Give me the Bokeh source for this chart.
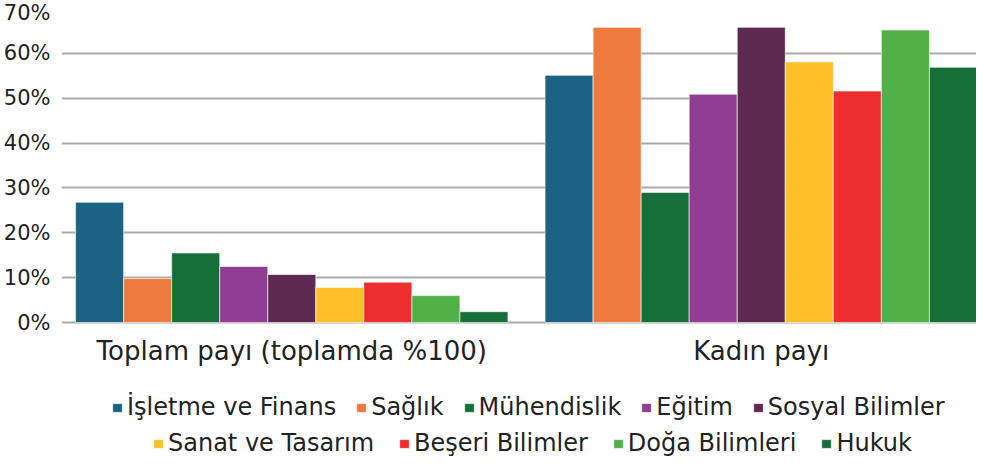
from bokeh.plotting import figure
from bokeh.models import ColumnDataSource, FactorRange, Legend, LegendItem, PrintfTickFormatter, FixedTicker
from bokeh.transform import dodge
from bokeh.core.properties import value
from bokeh.embed import file_html
from bokeh.resources import INLINE

categories = ["Toplam payı (toplamda %100)", "Kadın payı"]
series_names = ["İşletme ve Finans", "Sağlık", "Mühendislik", "Eğitim", "Sosyal Bilimler",
                "Sanat ve Tasarım", "Beşeri Bilimler", "Doğa Bilimleri", "Hukuk"]
isletme = [26.8, 55.1]
saglik = [9.8, 65.8]
muhendislik = [15.5, 29.0]
egitim = [12.5, 50.9]
sosyal = [10.7, 65.8]
sanat = [7.8, 58.1]
beseri = [9.0, 51.6]
doga = [6.0, 65.2]
hukuk = [2.4, 56.9]
colors = ["#1C6282", "#EE7A3E", "#156F39", "#913D93", "#5E2A52",
          "#FEBF29", "#EC2E2E", "#51B048", "#156F39"]
y_ticks = [0, 10, 20, 30, 40, 50, 60, 70]

values = [isletme, saglik, muhendislik, egitim, sosyal, sanat, beseri, doga, hukuk]
data = {"cat": categories, "base": [0, 0]}
for i, v in enumerate(values):
    data["s%d" % i] = v
source = ColumnDataSource(data)

FONT = "DejaVu Sans"
FIG_H = 457
TOP = 8
FRAME_H = FIG_H - TOP
PLOT_PX = 314
PX_PER_UNIT = PLOT_PX / 70.0
y_min = -(FRAME_H - PLOT_PX) / PX_PER_UNIT

x_range = FactorRange(factors=categories, range_padding=-0.0255, range_padding_units="absolute")
p = figure(x_range=x_range, y_range=(y_min, 70),
           width=976, height=FIG_H, output_backend="svg", toolbar_location=None,
           min_border_top=TOP, min_border_left=56, min_border_right=0, min_border_bottom=0)

SHIFT = 0.016
bar_w = 0.921 / 9
renderers = []
for i in range(9):
    r = p.vbar(x=dodge("cat", (i - 4) * bar_w + SHIFT, range=p.x_range), top="s%d" % i, width=bar_w,
               source=source, fill_color=colors[i], line_color="white", line_width=0.6)
    renderers.append(r)

# category labels under the bars
p.text(x=dodge("cat", SHIFT, range=p.x_range), y="base", text="cat", source=source,
       text_font=value(FONT), text_font_size="26px", text_color="#222222",
       text_align="center", text_baseline="top", y_offset=13)

p.outline_line_color = None
p.xgrid.grid_line_color = None
p.ygrid.grid_line_color = "#AAAAAA"
p.ygrid.grid_line_width = 2
p.yaxis.ticker = FixedTicker(ticks=y_ticks)
p.yaxis.formatter = PrintfTickFormatter(format="%d%%")
p.yaxis.axis_line_color = None
p.yaxis.major_tick_line_color = None
p.yaxis.minor_tick_line_color = None
p.yaxis.major_label_text_font = FONT
p.yaxis.major_label_text_font_size = "21px"
p.yaxis.major_label_text_color = "#222222"
p.yaxis.major_label_standoff = 5
p.xaxis.visible = False

def make_legend(idx, loc, spacing):
    items = [LegendItem(label=series_names[i], renderers=[renderers[i]]) for i in idx]
    lg = Legend(items=items, orientation="horizontal", location=loc,
                label_text_font=FONT, label_text_font_size="24px", label_text_color="#222222",
                glyph_width=12, glyph_height=11, label_standoff=4, spacing=spacing,
                padding=0, margin=0, border_line_color=None, background_fill_alpha=0)
    return lg

lg1 = make_legend(range(0, 5), (50, 36), 19)
lg2 = make_legend(range(5, 9), (91, 0), 24)
p.add_layout(lg1, "center")
p.add_layout(lg2, "center")

open("out.html", "w").write(file_html(p, INLINE))
